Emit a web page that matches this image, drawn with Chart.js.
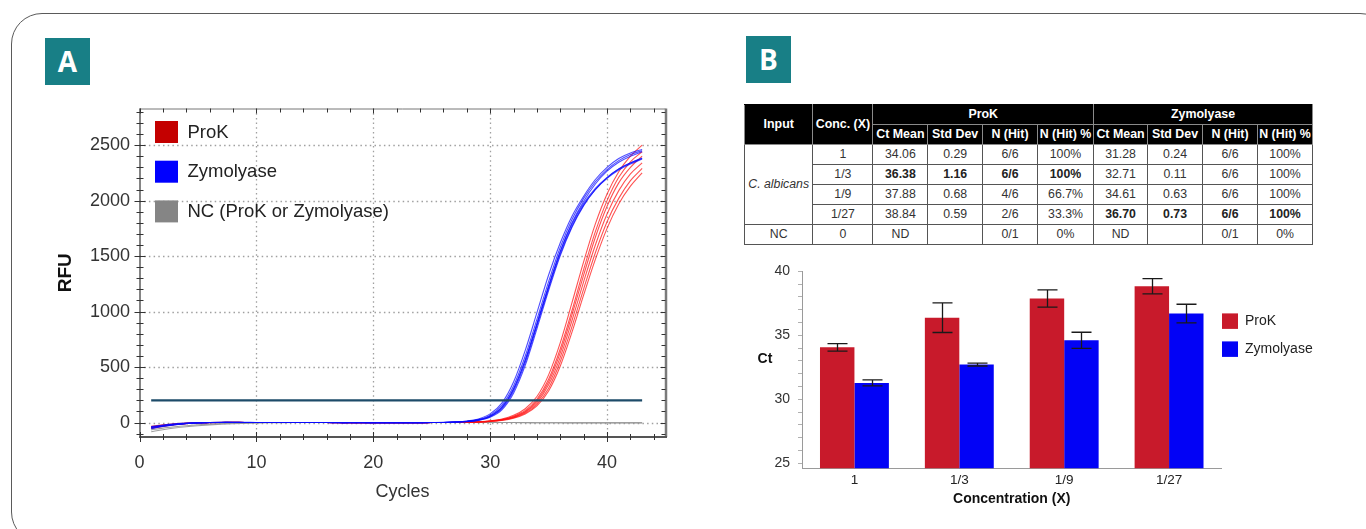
<!DOCTYPE html>
<html>
<head>
<meta charset="utf-8">
<script src="https://cdn.jsdelivr.net/npm/chart.js@4.4.1/dist/chart.umd.min.js"></script>
<style>
html,body{margin:0;padding:0;background:#fff;width:1366px;height:529px;overflow:hidden;font-family:"Liberation Sans",Arial,sans-serif;}
#frame{position:absolute;left:11px;top:13px;width:1380px;height:530px;border:1.3px solid #5a5a5a;border-radius:31px;box-sizing:border-box;}
.badge{position:absolute;width:45px;height:47px;background:#187f86;color:#fff;font-family:"Open Sans",sans-serif;font-weight:700;font-size:28px;line-height:47px;text-align:center;}
#cA{position:absolute;left:0;top:0;}
#cB{position:absolute;left:740px;top:255px;}
#tbl{position:absolute;left:744px;top:104px;border-collapse:collapse;table-layout:fixed;width:568px;font-size:12.3px;color:#333;}
#tbl th{background:#000;color:#fff;font-weight:700;font-size:12.4px;border:1px solid #8a8a8a;padding:0;height:19px;line-height:17px;white-space:nowrap;overflow:hidden;}
#tbl tr.h1 th{border-top:1px solid #000;}
#tbl td{border:1px solid #555;padding:0;height:19px;line-height:17px;text-align:center;white-space:nowrap;}
#tbl td.it{font-style:italic;}
#tbl td.b{font-weight:700;color:#222;}
</style>
</head>
<body>
<div id="frame"></div>
<div class="badge" style="left:45px;top:38px;">A</div>
<div class="badge" style="left:746px;top:36px;">B</div>
<canvas id="cA" width="700" height="529"></canvas>
<table id="tbl"></table>
<canvas id="cB" width="626" height="274"></canvas>
<script>
// ---------------- DATA ----------------
const cycles = [1,2,3,4,5,6,7,8,9,10,11,12,13,14,15,16,17,18,19,20,21,22,23,24,25,26,27,28,29,30,31,32,33,34,35,36,37,38,39,40,41,42,43];
const thresholdRFU = 200;

// Zymolyase replicates (RFU per cycle)
const zymoRep1 = [-40,-26,-15,-7,-2,1,2,2,1,1,0,0,1,1,0,0,-1,0,0,-1,-2,-2,-2,-1,0,2,6,14,33,78,175,365,650,990,1330,1620,1860,2040,2190,2300,2380,2430,2460];
const zymoRep2 = [-45,-30,-17,-8,-3,0,1,2,2,1,1,0,0,1,1,0,0,-1,-1,-1,-2,-2,-1,-1,0,1,5,12,28,67,155,330,600,930,1270,1580,1830,2020,2170,2280,2360,2415,2450];
const zymoRep3 = [-35,-22,-12,-5,-1,1,2,1,1,0,0,1,1,0,0,0,-1,-1,0,-1,-1,-2,-2,-1,0,1,4,10,25,60,140,305,565,890,1230,1545,1800,1995,2150,2265,2345,2400,2440];
const zymoRep4 = [-50,-33,-19,-9,-3,0,1,1,1,1,0,0,0,1,0,0,-1,0,-1,-1,-2,-2,-2,-1,0,1,4,10,24,58,135,300,560,890,1230,1540,1790,1975,2110,2210,2285,2340,2380];
const zymoRep5 = [-42,-28,-16,-7,-2,0,1,2,1,1,1,0,0,0,1,0,0,-1,-1,-1,-1,-2,-2,-1,0,1,4,9,22,53,125,285,540,870,1210,1520,1770,1960,2100,2200,2275,2330,2375];
const zymoRep6 = [-55,-36,-21,-10,-4,-1,1,1,1,0,0,0,1,1,0,0,0,-1,-1,-1,-2,-2,-2,-1,0,1,3,8,20,48,115,265,515,845,1190,1505,1760,1955,2100,2205,2285,2340,2385];

// ProK replicates
const prokRep1 = [-38,-25,-14,-6,-1,1,2,2,1,1,0,0,1,0,0,0,-1,-1,0,-1,-2,-2,-1,-1,0,1,2,4,8,16,32,65,125,235,430,720,1080,1450,1790,2060,2260,2400,2500];
const prokRep2 = [-44,-29,-17,-8,-2,0,1,1,1,0,0,1,0,0,1,0,-1,0,-1,-1,-1,-2,-2,-1,0,1,2,4,7,14,28,57,110,210,390,665,1010,1380,1720,2000,2210,2350,2440];
const prokRep3 = [-33,-21,-11,-5,-1,1,1,2,1,1,0,0,0,1,0,0,0,-1,-1,-1,-2,-1,-1,-1,0,0,1,3,6,13,26,52,100,195,365,630,970,1330,1670,1950,2160,2300,2400];
const prokRep4 = [-48,-32,-18,-9,-3,0,1,1,1,1,0,0,1,0,0,0,-1,-1,-1,-1,-2,-2,-1,-1,0,0,1,3,6,12,24,48,93,180,340,590,920,1270,1600,1880,2090,2240,2340];
const prokRep5 = [-40,-26,-15,-7,-2,0,1,2,1,0,1,0,0,0,1,0,0,-1,-1,-1,-1,-2,-2,-1,0,0,1,3,5,11,22,44,85,165,310,550,865,1205,1530,1810,2020,2180,2290];
const prokRep6 = [-52,-35,-20,-10,-4,-1,1,1,1,0,0,0,1,1,0,0,0,-1,-1,-1,-2,-2,-2,-1,0,0,1,2,5,10,20,40,78,150,285,510,815,1150,1470,1750,1970,2130,2250];

// Negative controls
const ncRep1 = [-82,-64,-49,-37,-28,-21,-15,-10,-7,-4,-2,-1,0,0,0,0,0,0,0,0,0,0,0,0,0,0,0,0,0,0,0,0,-1,-1,-2,-2,-3,-3,-3,-3,-3,-3,-3];
const ncRep2 = [-66,-50,-38,-28,-20,-14,-9,-6,-3,-1,0,0,0,1,0,0,0,0,0,0,0,0,0,0,0,0,0,0,0,0,0,0,0,-1,-1,-2,-2,-2,-2,-2,-2,-2,-2];

const legendA = ['ProK','Zymolyase','NC (ProK or Zymolyase)'];
const xTickLabelsA = [0,10,20,30,40];
const yTickLabelsA = [0,500,1000,1500,2000,2500];

// Table / bar data
const concLabels = ['1','1/3','1/9','1/27'];
const prokMean = [34.06,36.38,37.88,38.84];
const prokSd   = [0.29,1.16,0.68,0.59];
const prokHit  = ['6/6','6/6','4/6','2/6'];
const prokPct  = ['100%','100%','66.7%','33.3%'];
const zymoMean = [31.28,32.71,34.61,36.70];
const zymoSd   = [0.24,0.11,0.63,0.73];
const zymoHit  = ['6/6','6/6','6/6','6/6'];
const zymoPct  = ['100%','100%','100%','100%'];
const ncRow = {conc:'0', prok:['ND','','0/1','0%'], zymo:['ND','','0/1','0%']};
const boldProkRow = 1, boldZymoRow = 3;
const yTickLabelsB = [25,30,35,40];

// ---------------- TABLE ----------------
(function(){
  const t = document.getElementById('tbl');
  const widths = [68.4,60,55,54.6,55,56,54,55,55,55];
  let h = '<colgroup>' + widths.map(w=>'<col style="width:'+w+'px">').join('') + '</colgroup>';
  h += '<tr class="h1"><th rowspan="2" style="height:39px">Input</th><th rowspan="2">Conc. (X)</th><th colspan="4">ProK</th><th colspan="4">Zymolyase</th></tr>';
  const sub = ['Ct Mean','Std Dev','N (Hit)','N (Hit) %'];
  h += '<tr class="h2">' + sub.concat(sub).map(s=>'<th>'+s+'</th>').join('') + '</tr>';
  for (let i=0;i<concLabels.length;i++){
    h += '<tr>';
    if (i===0) h += '<td rowspan="4" class="it">C. albicans</td>';
    h += '<td>'+concLabels[i]+'</td>';
    const pc = i===boldProkRow ? ' class="b"' : '';
    const zc = i===boldZymoRow ? ' class="b"' : '';
    h += '<td'+pc+'>'+prokMean[i].toFixed(2)+'</td><td'+pc+'>'+prokSd[i].toFixed(2)+'</td><td'+pc+'>'+prokHit[i]+'</td><td'+pc+'>'+prokPct[i]+'</td>';
    h += '<td'+zc+'>'+zymoMean[i].toFixed(2)+'</td><td'+zc+'>'+zymoSd[i].toFixed(2)+'</td><td'+zc+'>'+zymoHit[i]+'</td><td'+zc+'>'+zymoPct[i]+'</td>';
    h += '</tr>';
  }
  h += '<tr><td>NC</td><td>'+ncRow.conc+'</td>' + ncRow.prok.concat(ncRow.zymo).map(v=>'<td>'+v+'</td>').join('') + '</tr>';
  t.innerHTML = h;
})();

// ---------------- CHART A ----------------
Chart.defaults.font.family = "'Liberation Sans', Arial, sans-serif";
const toPts = arr => arr.map((v,i)=>({x:cycles[i], y:v}));
const blueC = 'rgba(10,10,255,0.72)';
const redC = 'rgba(255,15,15,0.72)';
const greyC = 'rgba(150,150,150,0.9)';
const legendColorsA = ['#c40000','#0000ff','#858585'];

const dsA = [];
dsA.push({label:'Threshold', data:[{x:cycles[0],y:thresholdRFU},{x:cycles[cycles.length-1],y:thresholdRFU}], borderColor:'#1d4b69', borderWidth:2.2, cubicInterpolationMode:'default', tension:0});
[zymoRep1,zymoRep2,zymoRep3,zymoRep4,zymoRep5,zymoRep6].forEach((r,i)=>dsA.push({label:'Zymolyase '+(i+1), data:toPts(r), borderColor:blueC}));
[prokRep1,prokRep2,prokRep3,prokRep4,prokRep5,prokRep6].forEach((r,i)=>dsA.push({label:'ProK '+(i+1), data:toPts(r), borderColor:redC}));
[ncRep1,ncRep2].forEach((r,i)=>dsA.push({label:'NC '+(i+1), data:toPts(r), borderColor:greyC}));

const axisPluginA = {
  id:'axisA',
  beforeDatasetsDraw(chart){
    const {ctx, chartArea:a, scales:{x,y}} = chart;
    ctx.save();
    ctx.strokeStyle = '#a0a0a0'; ctx.lineWidth = 1.3; ctx.setLineDash([1.5,3.2]);
    xTickLabelsA.forEach(v=>{
      if (v<=x.min) return;
      const px = Math.round(x.getPixelForValue(v))+0.5;
      ctx.beginPath(); ctx.moveTo(px,a.top); ctx.lineTo(px,a.bottom); ctx.stroke();
    });
    yTickLabelsA.forEach(v=>{
      const py = Math.round(y.getPixelForValue(v))+0.5;
      ctx.beginPath(); ctx.moveTo(a.left,py); ctx.lineTo(a.right,py); ctx.stroke();
    });
    ctx.restore();
  },
  afterDraw(chart){
    const {ctx, chartArea:a, scales:{x,y}} = chart;
    ctx.save();
    // frame
    ctx.setLineDash([]);
    ctx.strokeStyle = '#777'; ctx.lineWidth = 1;
    ctx.beginPath(); ctx.moveTo(a.left, a.top+0.5); ctx.lineTo(a.right, a.top+0.5); ctx.stroke();
    ctx.strokeStyle = '#7a7a7a'; ctx.lineWidth = 2.5;
    ctx.beginPath(); ctx.moveTo(a.right+0.5, a.top); ctx.lineTo(a.right+0.5, a.bottom); ctx.stroke();
    ctx.strokeStyle = '#555'; ctx.lineWidth = 2;
    ctx.beginPath(); ctx.moveTo(a.left, a.bottom); ctx.lineTo(a.right+1.5, a.bottom); ctx.stroke();
    ctx.strokeStyle = '#333'; ctx.lineWidth = 1.2;
    ctx.beginPath(); ctx.moveTo(a.left+0.5, a.top); ctx.lineTo(a.left+0.5, a.bottom+1); ctx.stroke();
    // ticks
    ctx.strokeStyle = '#333'; ctx.lineWidth = 1;
    for (let v=0; v<=x.max; v+=2){
      const px = Math.round(x.getPixelForValue(v))+0.5;
      const major = v%10===0;
      const L = major?5:3;
      ctx.beginPath(); ctx.moveTo(px, a.bottom-L); ctx.lineTo(px, a.bottom+L); ctx.stroke();
      ctx.beginPath(); ctx.moveTo(px, a.top); ctx.lineTo(px, a.top+(major?5:4)); ctx.stroke();
    }
    for (let v=-100; v<=y.max; v+=100){
      const py = Math.round(y.getPixelForValue(v))+0.5;
      const major = v%500===0;
      const L = major?5:3;
      ctx.beginPath(); ctx.moveTo(a.left-L, py); ctx.lineTo(a.left+L+1, py); ctx.stroke();
      ctx.beginPath(); ctx.moveTo(a.right-(major?5:4), py); ctx.lineTo(a.right, py); ctx.stroke();
    }
    // legend
    ctx.font = "18.5px 'Liberation Sans', Arial, sans-serif";
    ctx.textBaseline = 'middle'; ctx.textAlign = 'left';
    legendA.forEach((lab,i)=>{
      const top = a.top + 12.5 + i*39.7;
      ctx.fillStyle = legendColorsA[i];
      ctx.fillRect(a.left+15.5, top, 23, 22);
      ctx.fillStyle = '#222';
      ctx.fillText(lab, a.left+48, top+11.5);
    });
    ctx.restore();
  }
};

new Chart(document.getElementById('cA'), {
  type:'line',
  data:{datasets:dsA},
  options:{
    responsive:false, animation:false,
    layout:{padding:{left:54.5, top:108.5, right:34.5, bottom:26}},
    plugins:{legend:{display:false}, tooltip:{enabled:false}},
    elements:{point:{radius:0}, line:{borderWidth:1.1, cubicInterpolationMode:'monotone'}},
    scales:{
      x:{type:'linear', min:0, max:45,
         afterFit(s){ s.height = 66; },
         afterBuildTicks(s){ s.ticks = xTickLabelsA.map(v=>({value:v})); },
         ticks:{padding:15, color:'#333', font:{size:18}, maxRotation:0, autoSkip:false, callback:v=>String(v)},
         grid:{display:false, drawTicks:false}, border:{display:false},
         title:{display:true, text:'Cycles', color:'#333', font:{size:18}, padding:0}},
      y:{type:'linear', min:-130, max:2830,
         afterFit(s){ s.width = 85; },
         afterBuildTicks(s){ s.ticks = yTickLabelsA.map(v=>({value:v})); },
         ticks:{padding:9.5, color:'#333', font:{size:18}, autoSkip:false, callback:v=>String(v)},
         grid:{display:false, drawTicks:false}, border:{display:false},
         title:{display:true, text:'RFU', color:'#111', font:{size:19, weight:'bold'}, padding:0}}
    }
  },
  plugins:[axisPluginA]
});

// ---------------- CHART B ----------------
const barColors = ['#c81a2b','#0202f6'];
const barPluginB = {
  id:'barB',
  afterDatasetsDraw(chart){
    const {ctx, chartArea:a, scales:{y}} = chart;
    const sds = [prokSd, zymoSd];
    ctx.save();
    ctx.strokeStyle = '#1a1a1a'; ctx.lineWidth = 1.3;
    chart.data.datasets.forEach((ds,i)=>{
      const meta = chart.getDatasetMeta(i);
      meta.data.forEach((bar,j)=>{
        const m = ds.data[j], s = sds[i][j];
        const yt = y.getPixelForValue(m+s), yb = y.getPixelForValue(m-s);
        const cx = Math.round(bar.x)+0.5, hw = 10;
        ctx.beginPath();
        ctx.moveTo(cx, yt); ctx.lineTo(cx, yb);
        ctx.moveTo(cx-hw, yt); ctx.lineTo(cx+hw, yt);
        ctx.moveTo(cx-hw, yb); ctx.lineTo(cx+hw, yb);
        ctx.stroke();
      });
    });
    // legend
    ctx.font = "14px 'Liberation Sans', Arial, sans-serif";
    ctx.textBaseline = 'middle'; ctx.textAlign = 'left';
    chart.data.datasets.forEach((ds,i)=>{
      const top = a.top + 42 + i*28;
      ctx.fillStyle = ds.backgroundColor;
      ctx.fillRect(a.right+0.5, top, 16, 15.5);
      ctx.fillStyle = '#222';
      ctx.fillText(ds.label, a.right+23.5, top+8);
    });
    // Ct label (horizontal)
    ctx.font = "bold 14px 'Liberation Sans', Arial, sans-serif";
    ctx.textAlign = 'center'; ctx.fillStyle = '#111';
    ctx.fillText('Ct', a.left-37, y.getPixelForValue(33.15));
    ctx.restore();
  }
};

new Chart(document.getElementById('cB'), {
  type:'bar',
  data:{labels:concLabels, datasets:[
    {label:'ProK', data:prokMean, backgroundColor:barColors[0]},
    {label:'Zymolyase', data:zymoMean, backgroundColor:barColors[1]}
  ]},
  options:{
    responsive:false, animation:false,
    layout:{padding:{left:0, top:15, right:144.5, bottom:21.6}},
    plugins:{legend:{display:false}, tooltip:{enabled:false}},
    datasets:{bar:{categoryPercentage:0.657, barPercentage:1.0}},
    scales:{
      x:{afterFit(s){ s.height = 39.1; },
         grid:{display:false, drawTicks:false}, border:{color:'#9a9a9a', width:1},
         ticks:{padding:4, color:'#222', font:{size:13.5}},
         title:{display:true, text:'Concentration (X)', color:'#111', font:{size:14, weight:'bold'}, padding:0}},
      y:{min:24.6, max:40,
         afterFit(s){ s.width = 62; },
         afterBuildTicks(s){ const t=[]; for(let v=yTickLabelsB[0]; v<=yTickLabelsB[yTickLabelsB.length-1]; v++) t.push({value:v}); s.ticks=t; },
         ticks:{padding:8, color:'#333', font:{size:14}, autoSkip:false, callback:v=>yTickLabelsB.includes(v)?String(v):''},
         grid:{drawOnChartArea:false, tickLength:4, tickColor:'#b0b0b0'},
         border:{color:'#9a9a9a', width:1}}
    }
  },
  plugins:[barPluginB]
});
</script>
</body>
</html>
